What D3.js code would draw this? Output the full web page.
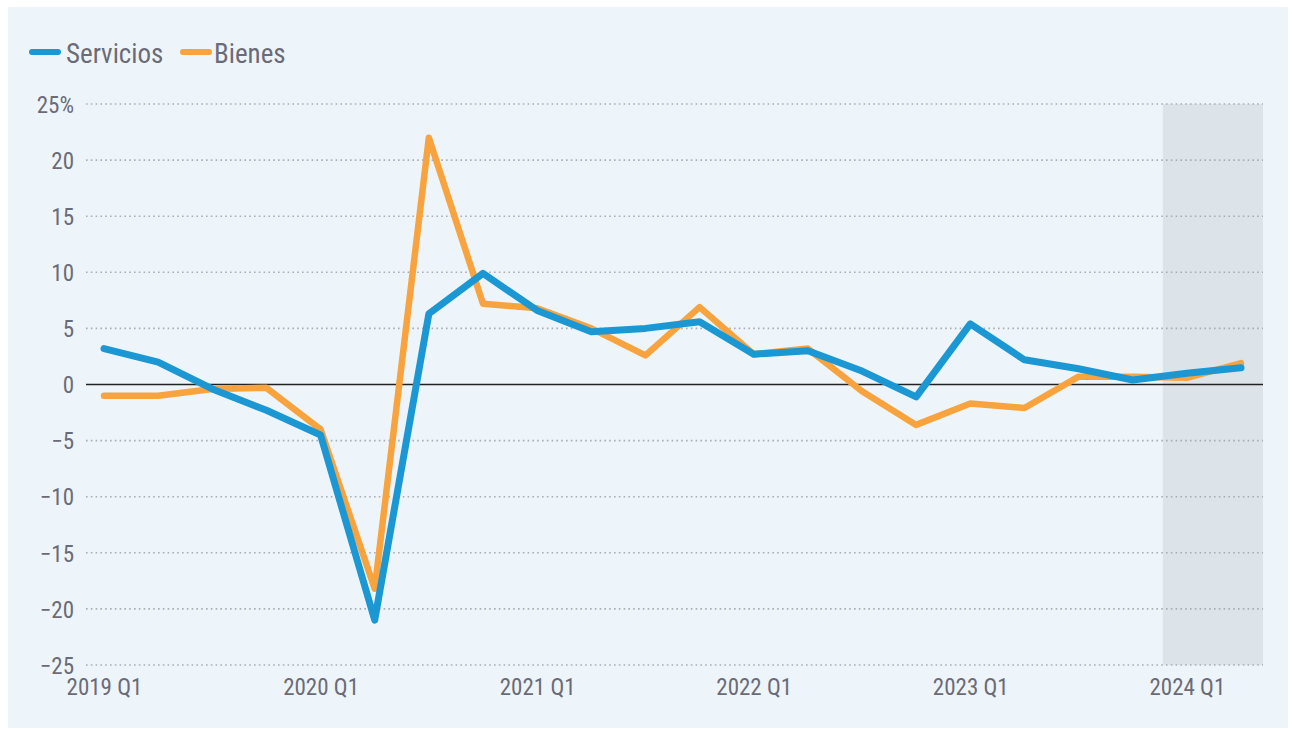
<!DOCTYPE html>
<html><head><meta charset="utf-8">
<script src="https://cdn.jsdelivr.net/npm/d3@7"></script>
<style>
html,body{margin:0;padding:0;background:#fff;}
svg text{font-family:"Liberation Sans Narrow","Roboto Condensed","Liberation Sans",sans-serif;fill:#6b6b78;}
</style></head>
<body>
<svg id="c" width="1294" height="730"></svg>
<script>
const quarters = ["2019 Q1","2019 Q2","2019 Q3","2019 Q4","2020 Q1","2020 Q2","2020 Q3","2020 Q4","2021 Q1","2021 Q2","2021 Q3","2021 Q4","2022 Q1","2022 Q2","2022 Q3","2022 Q4","2023 Q1","2023 Q2","2023 Q3","2023 Q4","2024 Q1","2024 Q2"];
const servicios = [3.2,2.0,-0.4,-2.3,-4.5,-21.0,6.3,9.9,6.6,4.7,5.0,5.6,2.7,3.0,1.2,-1.1,5.4,2.2,1.4,0.4,1.0,1.5];
const bienes = [-1.0,-1.0,-0.4,-0.3,-4.0,-18.2,22.0,7.2,6.8,5.0,2.6,6.9,2.7,3.2,-0.6,-3.6,-1.7,-2.1,0.7,0.7,0.6,1.9];
const yTicks = [25,20,15,10,5,0,-5,-10,-15,-20,-25];
const xTickLabels = ["2019 Q1","2020 Q1","2021 Q1","2022 Q1","2023 Q1","2024 Q1"];
const shaded = ["2024 Q1","2024 Q2"];

const FONT = '"Liberation Sans Narrow","Roboto Condensed","Liberation Sans",sans-serif';
const svg = d3.select("#c");
svg.append("rect").attr("x",8).attr("y",7).attr("width",1280).attr("height",721).attr("fill","#eef5fa");

const x = d3.scalePoint().domain(quarters).range([104,1241]);
const step = x.step();
const y = d3.scaleLinear().domain([-25,25]).range([665,104]);
const gx0 = 86, gx1 = 1263;

// shaded projection area
const sx = x(shaded[0]) - step*0.5 + 3;
svg.append("rect")
  .attr("x", sx).attr("y", y(25))
  .attr("width", gx1 - sx).attr("height", y(-25)-y(25))
  .attr("fill","#dce4ea");

// y axis labels
const yAxis = d3.axisLeft(y).tickValues(yTicks).tickSize(0).tickPadding(0)
  .tickFormat(d => d===25 ? "25%" : (d<0 ? "\u2212"+Math.abs(d) : d));
const ga = svg.append("g").attr("transform",`translate(74,0)`).call(yAxis);
ga.select(".domain").remove();
ga.selectAll("text").attr("font-size",23).attr("dy","0.36em").attr("fill","#6b6b78")
  .style("font-family",FONT);

// grid
svg.append("g").selectAll("line").data(yTicks.filter(d=>d!==0)).join("line")
  .attr("x1",gx0).attr("x2",gx1).attr("y1",d=>y(d)).attr("y2",d=>y(d))
  .attr("stroke","#a9adb2").attr("stroke-width",1.6).attr("stroke-dasharray","1.6,3.2");

// zero line
svg.append("line").attr("x1",gx0).attr("x2",gx1).attr("y1",y(0)).attr("y2",y(0))
  .attr("stroke","#222").attr("stroke-width",1.6);

// x axis
const xAxis = d3.axisBottom(x).tickValues(xTickLabels).tickSize(0).tickPadding(0);
const gxA = svg.append("g").attr("transform",`translate(0,679)`).call(xAxis);
gxA.select(".domain").remove();
gxA.selectAll("text").attr("font-size",23).attr("dy","0.71em").attr("fill","#6b6b78")
  .style("font-family",FONT);

// lines
const line = d3.line().x((d,i)=>x(quarters[i])).y(d=>y(d));
svg.append("path").datum(bienes).attr("d",line).attr("fill","none")
  .attr("stroke","#f8a33d").attr("stroke-width",6.5).attr("stroke-linejoin","round").attr("stroke-linecap","round");
svg.append("path").datum(servicios).attr("d",line).attr("fill","none")
  .attr("stroke","#1b98d4").attr("stroke-width",7).attr("stroke-linejoin","round").attr("stroke-linecap","round");

// legend
const legend = [{name:"Servicios",color:"#1b98d4",x:32,tx:66},{name:"Bienes",color:"#f8a33d",x:183,tx:214}];
const lg = svg.append("g");
lg.selectAll("line").data(legend).join("line")
  .attr("x1",d=>d.x).attr("x2",d=>d.x+26).attr("y1",52).attr("y2",52)
  .attr("stroke",d=>d.color).attr("stroke-width",6).attr("stroke-linecap","round");
lg.selectAll("text").data(legend).join("text")
  .attr("x",d=>d.tx).attr("y",53).attr("dy","0.36em").attr("font-size",27)
  .style("font-family",FONT)
  .text(d=>d.name);
</script>
</body></html>
